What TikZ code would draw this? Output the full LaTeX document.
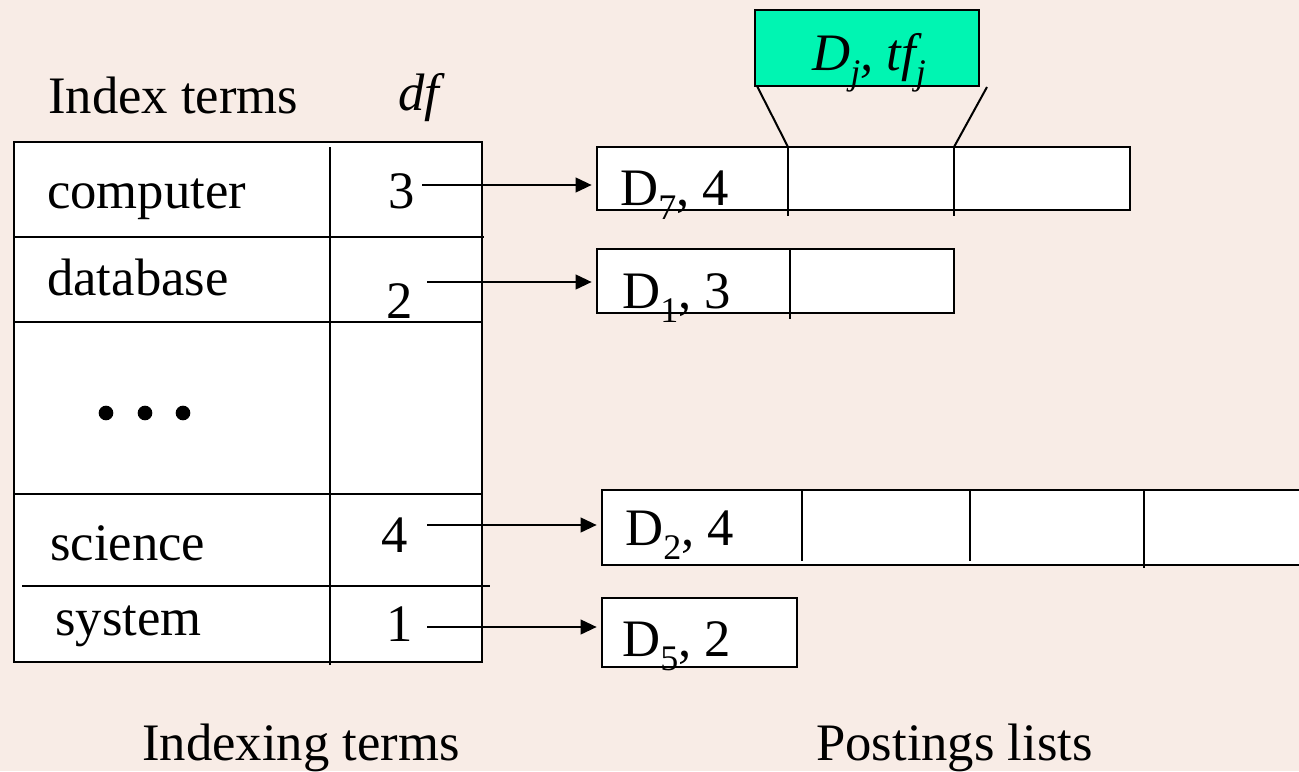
\documentclass[tikz,border=0pt]{standalone}
\usepackage{fontspec}
\setmainfont{Liberation Serif}
\usetikzlibrary{arrows.meta,fit}
\definecolor{paper}{RGB}{248,236,230}
\definecolor{keygreen}{RGB}{0,245,178}
% lowered, reduced-size subscript for the posting labels
\newcommand\lowsub[1]{\raisebox{-0.28em}{\fontsize{27}{27}\selectfont #1}}
\tikzset{
  txt/.style={anchor=base west, inner sep=0pt, font=\fontsize{39.5}{39.5}\selectfont},
  rule/.style={line width=2pt},
  cell/.style={draw, line width=2pt, fill=white, inner sep=0pt},
  link/.style={line width=1.5pt, shorten >=3pt, -{Triangle[length=12pt,width=11pt]}},
  dot/.style={circle, fill=black, inner sep=0pt, minimum size=11pt}
}
\begin{document}
\begin{tikzpicture}[x=0.75pt,y=-0.75pt]
\useasboundingbox (0,0) rectangle (1299,771);
\fill[paper] (0,0) rectangle (1299,771);
\clip (0,0) rectangle (1299,771);

% headings
\node[txt] (hterms) at (48,113) {Index terms};
\node[txt, font=\fontsize{39.5}{39.5}\selectfont\itshape] (hdf) at (398,110) {df};

% term table
\node[cell, fit={(14,142)(482,662)}] (table) {};
\draw[rule] (330,147) -- (330,665);
\draw[rule] (15,237) -- (484,237);
\draw[rule] (15,322) -- (482,322);
\draw[rule] (15,494) -- (482,494);
\draw[rule] (22,586) -- (490,586);

\node[txt] (tcomp) at (47,208) {computer};
\node[txt] (tdata) at (47,295) {database};
\node[txt] (tsci)  at (50,560) {science};
\node[txt] (tsys)  at (55,635) {system};
\node[dot] (d1) at (106,413) {};
\node[dot] (d2) at (145,413) {};
\node[dot] (d3) at (183,413) {};

\node[txt] (n3) at (388,208) {3};
\node[txt] (n2) at (386,318) {2};
\node[txt] (n4) at (381,552) {4};
\node[txt] (n1) at (386,641) {1};

% postings lists
\node[cell, fit={(597,147)(1130,210)}] (p1) {};
\draw[rule] (788,147) -- (788,216);
\draw[rule] (954,147) -- (954,216);
\node[txt] (l1) at (620,205) {D\lowsub{7}, 4};

\node[cell, fit={(597,249)(954,313)}] (p2) {};
\draw[rule] (790,249) -- (790,319);
\node[txt] (l2) at (622,308) {D\lowsub{1}, 3};

\node[cell, fit={(602,490)(1320,565)}] (p3) {};
\draw[rule] (802,490) -- (802,561);
\draw[rule] (970,490) -- (970,561);
\draw[rule] (1144,490) -- (1144,568);
\node[txt] (l3) at (625,545) {D\lowsub{2}, 4};

\node[cell, fit={(602,598)(797,667)}] (p4) {};
\node[txt] (l4) at (622,656) {D\lowsub{5}, 2};

% entry detail
\node[draw, line width=2pt, fill=keygreen, inner sep=0pt, fit={(755,10)(979,86)}] (entry) {};
\node[txt, font=\fontsize{39.5}{39.5}\selectfont\itshape] (elabel) at (812,70)
  {D\lowsub{j}, tf\lowsub{j}};
\coordinate (eL) at (757,86);
\coordinate (eR) at (987,87);
\coordinate (c1) at (788,147);
\coordinate (c2) at (954,147);
\draw[line width=1.5pt] (eL) -- (c1);
\draw[line width=1.5pt] (eR) -- (c2);

% pointers from df to postings
\coordinate (s3) at (422,185);
\coordinate (s2) at (427,282);
\coordinate (s4) at (427,525);
\coordinate (s1) at (427,627);
\draw[link] (s3) -- (s3 -| p1.west);
\draw[link] (s2) -- (s2 -| p2.west);
\draw[link] (s4) -- (s4 -| p3.west);
\draw[link] (s1) -- (s1 -| p4.west);

% captions
\node[txt] (cap1) at (142,760) {Indexing terms};
\node[txt] (cap2) at (816,760) {Postings lists};
\end{tikzpicture}
\end{document}
